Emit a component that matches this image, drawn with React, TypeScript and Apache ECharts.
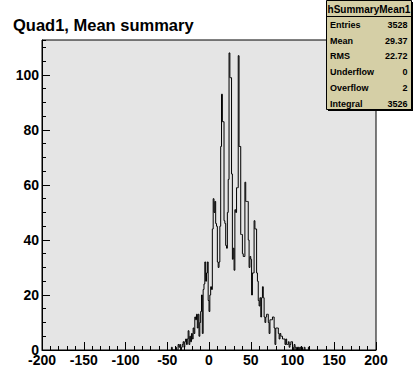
import React, { useEffect, useRef } from "react";
import * as echarts from "echarts";

// Histogram: bins of width 1, first bin low edge at -45
const binStart = -45;
const binWidth = 1;
const counts = [
  // -45 .. -1
  1, 0, 0, 0, 0, 1, 0, 0, 2, 1, 2, 0, 1, 2, 3, 1, 3, 4, 2, 4, 7, 2, 5, 3, 6, 4, 8, 6,
  12, 11, 13, 8, 13, 5, 10, 14, 20, 6, 22, 24, 32, 25, 28, 32, 18,
  // 0 .. 49
  14, 20, 23, 22, 44, 55, 50, 54, 46, 45,
  32, 30, 32, 45, 74, 93, 83, 83, 47, 46,
  38, 37, 50, 62, 108, 99, 99, 64, 33, 37,
  29, 51, 50, 59, 59, 107, 74, 74, 42, 42,
  35, 34, 34, 61, 54, 54, 54, 40, 30, 34,
  // 50 .. 99
  33, 20, 28, 28, 47, 44, 44, 28, 25, 18,
  16, 19, 12, 19, 23, 19, 12, 10, 12, 13,
  13, 10, 6, 11, 11, 11, 12, 12, 8, 2,
  8, 8, 8, 6, 4, 6, 5, 5, 4, 4,
  4, 2, 4, 2, 2, 3, 1, 2, 3, 3,
  // 100 .. 120
  1, 0, 2, 1, 0, 1, 0, 1, 0, 1, 0, 1, 0, 0, 1, 0, 0, 0, 0, 1, 0,
];

const xMin = -200;
const xMax = 200;
const xInterval = 50;
const yMin = 0;
const yMax = 112.7;
const yInterval = 20;
const yMinorInterval = 5;

const chartTitle = "Quad1, Mean summary";
const statsTitle = "hSummaryMean1";
const statsLabels = ["Entries", "Mean", "RMS", "Underflow", "Overflow", "Integral"];
const statsValues = ["3528", "29.37", "22.72", "0", "2", "3526"];

const FONT = "'Liberation Sans', Arial, Helvetica, sans-serif";

export default function App() {
  const ref = useRef<HTMLDivElement>(null);

  useEffect(() => {
    if (!ref.current) return;
    const chart = echarts.init(ref.current, undefined, { renderer: "svg" });

    const data: [number, number][] = [[binStart, 0]];
    counts.forEach((c, i) => data.push([binStart + i * binWidth, c]));
    data.push([binStart + counts.length * binWidth, 0]);

    const boxX = 326.5;
    const boxY = 0.5;
    const boxW = 85;
    const boxH = 109;
    const rowY0 = 25;
    const rowDy = 15.7;

    const statsElems: any[] = [
      {
        type: "rect",
        shape: { x: boxX + 1.5, y: boxY + 1.5, width: boxW, height: boxH },
        style: { fill: "#000" },
        z: 100,
      },
      {
        type: "rect",
        shape: { x: boxX, y: boxY, width: boxW, height: boxH },
        style: { fill: "#d5cfa6", stroke: "#000", lineWidth: 1 },
        z: 101,
      },
      {
        type: "line",
        shape: { x1: boxX, y1: 16.5, x2: boxX + boxW, y2: 16.5 },
        style: { stroke: "#000", lineWidth: 1 },
        z: 102,
      },
      {
        type: "text",
        x: boxX + boxW / 2,
        y: 9,
        style: {
          text: statsTitle,
          font: `bold 10px ${FONT}`,
          fill: "#000",
          align: "center",
          verticalAlign: "middle",
        },
        z: 102,
      },
    ];
    statsLabels.forEach((lab, i) => {
      statsElems.push({
        type: "text",
        x: 330,
        y: rowY0 + i * rowDy,
        style: {
          text: lab,
          font: `bold 9px ${FONT}`,
          fill: "#000",
          align: "left",
          verticalAlign: "middle",
        },
        z: 102,
      });
      statsElems.push({
        type: "text",
        x: 407.5,
        y: rowY0 + i * rowDy,
        style: {
          text: statsValues[i],
          font: `bold 9px ${FONT}`,
          fill: "#000",
          align: "right",
          verticalAlign: "middle",
        },
        z: 102,
      });
    });

    const option: any = {
      animation: false,
      backgroundColor: "#ffffff",
      grid: {
        left: 42,
        top: 40,
        width: 334,
        height: 310,
        show: true,
        backgroundColor: "#e5e5e5",
        borderColor: "#000",
        borderWidth: 1,
      },
      xAxis: {
        type: "value",
        min: xMin,
        max: xMax,
        interval: xInterval,
        axisLine: { show: true, onZero: false, lineStyle: { color: "#000", width: 1 } },
        axisTick: { show: true, inside: true, length: 8, lineStyle: { color: "#000" } },
        minorTick: { show: true, splitNumber: 5, length: 4, lineStyle: { color: "#000" } },
        splitLine: { show: false },
        minorSplitLine: { show: false },
        axisLabel: {
          color: "#000",
          fontFamily: FONT,
          fontWeight: "bold",
          fontSize: 14,
          margin: 3,
        },
      },
      yAxis: [
        {
          type: "value",
          min: yMin,
          max: yMax,
          interval: yInterval,
          axisLine: { show: true, onZero: false, lineStyle: { color: "#000", width: 1 } },
          axisTick: { show: true, inside: true, length: 8, lineStyle: { color: "#000" } },
          splitLine: { show: false },
          axisLabel: {
            color: "#000",
            fontFamily: FONT,
            fontWeight: "bold",
            fontSize: 14,
            margin: 3,
            showMaxLabel: false,
          },
        },
        {
          type: "value",
          position: "left",
          min: yMin,
          max: yMax,
          interval: yMinorInterval,
          axisLine: { show: false, onZero: false },
          axisTick: { show: true, inside: true, length: 4, lineStyle: { color: "#000" } },
          splitLine: { show: false },
          axisLabel: { show: false },
        },
      ],
      series: [
        {
          type: "line",
          step: "end",
          yAxisIndex: 0,
          data,
          showSymbol: false,
          symbol: "none",
          lineStyle: { color: "#000", width: 1 },
          z: 5,
        },
      ],
      graphic: [
        {
          type: "text",
          x: 13,
          y: 25,
          style: {
            text: chartTitle,
            font: `bold 16.5px ${FONT}`,
            fill: "#000",
            align: "left",
            verticalAlign: "middle",
          },
        },
        ...statsElems,
      ],
    };

    chart.setOption(option);
    return () => chart.dispose();
  }, []);

  return (
    <div
      ref={ref}
      style={{ position: "absolute", left: 0, top: 0, width: 418, height: 390 }}
    />
  );
}
